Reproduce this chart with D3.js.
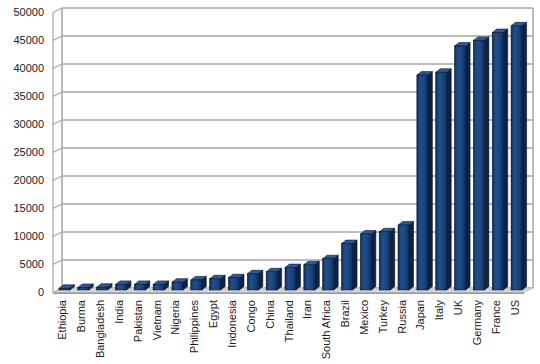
<!DOCTYPE html>
<html lang="en">
<head>
<meta charset="utf-8">
<title>GDP per capita</title>
<script src="https://cdn.jsdelivr.net/npm/d3@7"></script>
<style>
  body { margin: 0; background: #fff; }
  text { font-family: "Liberation Sans", Arial, sans-serif; font-size: 11px; fill: #222; }
</style>
</head>
<body>
<script>
var countries = ["Ethiopia", "Burma", "Bangladesh", "India", "Pakistan", "Vietnam", "Nigeria",
  "Philippines", "Egypt", "Indonesia", "Congo", "China", "Thailand", "Iran", "South Africa",
  "Brazil", "Mexico", "Turkey", "Russia", "Japan", "Italy", "UK", "Germany", "France", "US"];
var values = [300, 450, 500, 1000, 1000, 1000, 1400, 1800, 2000, 2200, 2900, 3250, 4000, 4500,
  5600, 8300, 10000, 10400, 11600, 38400, 38900, 43600, 44600, 46000, 47200];
var yTicks = [0, 5000, 10000, 15000, 20000, 25000, 30000, 35000, 40000, 45000, 50000];

var w = 540, h = 364;
// front plane and depth offset of the 3d box
var left = 53, right = 524, dx = 9, dy = 4.5;
var yFront = d3.scaleLinear().domain([0, 50000]).range([292.5, 12.5]);
var yBack = d3.scaleLinear().domain([0, 50000]).range([288, 8]);
var yBar = d3.scaleLinear().domain([0, 50000]).range([290, 10.2]);
var x = d3.scaleBand().domain(countries).range([left, right]);

var svg = d3.select("body").append("svg").attr("width", w).attr("height", h);

var defs = svg.append("defs");
var grad = defs.append("linearGradient").attr("id", "front");
grad.append("stop").attr("offset", "0%").attr("stop-color", "#0f2c57");
grad.append("stop").attr("offset", "30%").attr("stop-color", "#1f4f8e");
grad.append("stop").attr("offset", "60%").attr("stop-color", "#1c4884");
grad.append("stop").attr("offset", "100%").attr("stop-color", "#112f5c");

var grid = "#a6a6a6";

// back wall gridlines
svg.append("g").selectAll("line").data(yTicks).enter().append("line")
  .attr("x1", left + dx).attr("x2", right + dx)
  .attr("y1", function(d) { return yBack(d); }).attr("y2", function(d) { return yBack(d); })
  .attr("stroke", grid).attr("stroke-width", 1.5);

// left wall slants
svg.append("g").selectAll("line").data(yTicks).enter().append("line")
  .attr("x1", left).attr("x2", left + dx)
  .attr("y1", function(d) { return yFront(d); }).attr("y2", function(d) { return yBack(d); })
  .attr("stroke", grid).attr("stroke-width", 1.2);

// wall edges
svg.append("line").attr("x1", left).attr("x2", left).attr("y1", yFront(50000)).attr("y2", yFront(0))
  .attr("stroke", grid).attr("stroke-width", 1.2);
svg.append("line").attr("x1", left + dx).attr("x2", left + dx).attr("y1", yBack(50000)).attr("y2", yBack(0))
  .attr("stroke", grid).attr("stroke-width", 1.5);
svg.append("line").attr("x1", right + dx).attr("x2", right + dx).attr("y1", yBack(50000)).attr("y2", yBack(0))
  .attr("stroke", grid).attr("stroke-width", 1.5);

// floor
svg.append("polygon")
  .attr("points", [[left, yFront(0)], [right, yFront(0)], [right + dx, yBack(0)], [left + dx, yBack(0)]].join(" "))
  .attr("fill", "#d4d4d4").attr("stroke", "#b8b8b8").attr("stroke-width", 0.8);
svg.append("rect").attr("x", left).attr("y", yFront(0)).attr("width", right - left).attr("height", 1.5)
  .attr("fill", "#9a9a9a");

// bars
var bw = 11, bdx = 4.5, bdy = 3.5;
var bars = svg.append("g").selectAll("g").data(countries).enter().append("g");

bars.each(function(c, i) {
  var g = d3.select(this);
  var x0 = x(c) + x.bandwidth() / 2 - 3.5, x1 = x0 + bw;
  var top = yBar(values[i]), bot = yBar(0);
  g.append("polygon")
    .attr("points", [[x1, top], [x1 + bdx, top - bdy], [x1 + bdx, bot - bdy], [x1, bot]].join(" "))
    .attr("fill", "#0b2244").attr("stroke", "#08172e").attr("stroke-width", 0.6);
  g.append("polygon")
    .attr("points", [[x0, top], [x0 + bdx, top - bdy], [x1 + bdx, top - bdy], [x1, top]].join(" "))
    .attr("fill", "#2a5a98").attr("stroke", "#08172e").attr("stroke-width", 0.6);
  g.append("rect").attr("x", x0).attr("y", top).attr("width", bw).attr("height", bot - top)
    .attr("fill", "url(#front)").attr("stroke", "#08172e").attr("stroke-width", 0.6);
});

// y labels
svg.append("g").selectAll("text").data(yTicks).enter().append("text")
  .attr("x", 44).attr("y", function(d) { return yFront(d) + 1; })
  .attr("text-anchor", "end").attr("dominant-baseline", "middle")
  .text(function(d) { return d; });

// x labels
svg.append("g").selectAll("text").data(countries).enter().append("text")
  .attr("transform", function(d) { return "translate(" + (x(d) + x.bandwidth() / 2 + 4) + ",300) rotate(-90)"; })
  .attr("text-anchor", "end")
  .text(function(d) { return d; });
</script>
</body>
</html>
